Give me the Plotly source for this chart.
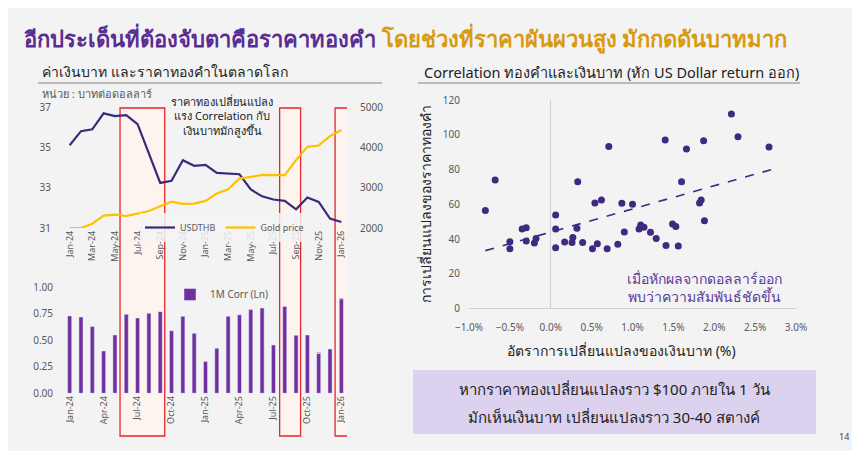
import plotly.graph_objects as go

# monthly data Jan-24 .. Jan-26
months = ["Jan-24", "Feb-24", "Mar-24", "Apr-24", "May-24", "Jun-24", "Jul-24", "Aug-24", "Sep-24",
          "Oct-24", "Nov-24", "Dec-24", "Jan-25", "Feb-25", "Mar-25", "Apr-25", "May-25", "Jun-25",
          "Jul-25", "Aug-25", "Sep-25", "Oct-25", "Nov-25", "Dec-25", "Jan-26"]
usdthb = [35.13, 35.83, 35.92, 36.72, 36.58, 36.63, 36.18, 34.72, 33.25, 33.35, 34.38, 34.10, 34.15,
          33.75, 33.72, 33.68, 32.92, 32.58, 32.42, 32.35, 31.93, 32.52, 32.30, 31.47, 31.30]
gold = [2000, 2000, 2108, 2308, 2333, 2300, 2358, 2425, 2542, 2658, 2600, 2608, 2675, 2858, 2967,
        3233, 3275, 3325, 3317, 3317, 3692, 4025, 4058, 4292, 4442]
corr_1m = [0.73, 0.72, 0.63, 0.40, 0.55, 0.745, 0.71, 0.755, 0.77, 0.59, 0.726, 0.566, 0.30,
           0.425, 0.726, 0.74, 0.79, 0.805, 0.456, 0.82, 0.547, 0.55, 0.375, 0.418, 0.889]
corr_labels = {22: "0.375", 24: "0.889"}

# periods with strong gold moves (month index start/end)
highlights = [(4.45, 8.4), (18.55, 20.4), (23.45, 24.6)]

# scatter: THB change (%) vs gold price change
thb_chg = [-0.80, -0.68, -0.50, -0.50, -0.35, -0.30, -0.30, -0.20, -0.18, 0.06, 0.06, 0.06, 0.17,
           0.26, 0.27, 0.32, 0.33, 0.39, 0.51, 0.54, 0.57, 0.62, 0.69, 0.71, 0.82, 0.87, 0.90, 1.00,
           1.08, 1.10, 1.14, 1.22, 1.29, 1.40, 1.41, 1.49, 1.53, 1.56, 1.60, 1.66, 1.82, 1.84, 1.87,
           1.88, 2.21, 2.29, 2.67]
gold_chg = [56.4, 74, 38.5, 34.5, 45.8, 46.6, 38.9, 37.8, 40.4, 53.9, 45.8, 35.1, 38.3,
            38, 41, 46.2, 73, 38, 34.5, 60.8, 37.4, 62.5, 34.5, 93.2, 37, 60.6, 44.1, 60,
            45.8, 48.1, 46.8, 43.9, 40.4, 97, 36.4, 48.7, 47.2, 36, 73, 91.8, 60.8, 62.5, 96.6,
            50.6, 112, 98.9, 93]
trend_x = [-0.8, 2.7]
trend_y = [33.4, 80.0]

W, H = 860, 451
OFF = 8  # page body margin, the figure div starts 8px in
PURPLE = "#3b2a7a"
GOLD = "#ffc000"
BAR = "#7030a0"
GREY = "#595959"
FONT = "Noto Sans, sans-serif"


def px(x):
    return (x - OFF) / W


def py(y):
    return 1 - (y - OFF) / H


idx = list(range(len(months)))

fig = go.Figure()
fig.add_trace(go.Scatter(x=idx, y=usdthb, mode="lines", name="USDTHB",
                         line=dict(color=PURPLE, width=2.2), xaxis="x", yaxis="y", legend="legend"))
fig.add_trace(go.Scatter(x=idx, y=gold, mode="lines", name="Gold price",
                         line=dict(color=GOLD, width=2.2), xaxis="x", yaxis="y2", legend="legend"))
fig.add_trace(go.Bar(x=idx, y=corr_1m, name="1M Corr (Ln)", marker_color=BAR, width=0.36,
                     text=[corr_labels.get(i, "") for i in idx], textposition="outside",
                     textfont=dict(size=10, color=GREY), cliponaxis=False,
                     xaxis="x2", yaxis="y3", legend="legend2"))
fig.add_trace(go.Scatter(x=thb_chg, y=gold_chg, mode="markers", showlegend=False,
                         marker=dict(color="#3f2a80", size=7), xaxis="x3", yaxis="y4"))
fig.add_trace(go.Scatter(x=trend_x, y=trend_y, mode="lines", showlegend=False,
                         line=dict(color="#3f2a80", width=1.6, dash="dash"), xaxis="x3", yaxis="y4"))

tick_font = dict(family=FONT, size=10, color=GREY)
xdom = [px(64), px(347)]

fig.update_layout(
    width=W, height=H, margin=dict(l=0, r=0, t=0, b=0, autoexpand=False),
    paper_bgcolor="#f3f3f4", plot_bgcolor="rgba(0,0,0,0)",
    font=dict(family=FONT, color="#333333"),
    xaxis=dict(domain=xdom, range=[-0.5, 24.5], tickvals=idx[::2], ticktext=months[::2],
               tickangle=-90, tickfont=dict(family=FONT, size=9, color=GREY), showgrid=False,
               zeroline=False, anchor="y", automargin=False),
    yaxis=dict(domain=[py(228), py(107.7)], range=[31, 37], tick0=31, dtick=2, tickfont=tick_font,
               showgrid=False, zeroline=False, anchor="x", ticklabelstandoff=12, automargin=False),
    yaxis2=dict(overlaying="y", side="right", range=[2000, 5000], dtick=1000, tickfont=tick_font,
                showgrid=False, zeroline=False, anchor="x", ticklabelstandoff=12, automargin=False),
    xaxis2=dict(domain=xdom, range=[-0.5, 24.5], tickvals=idx[::3], ticktext=months[::3],
                tickangle=-90, tickfont=dict(family=FONT, size=9, color=GREY), showgrid=False,
                zeroline=False, anchor="y3", automargin=False),
    yaxis3=dict(domain=[py(393.3), py(287.3)], range=[0, 1], dtick=0.25, tickformat=".2f",
                tickfont=tick_font, showgrid=False, zeroline=False, anchor="x2",
                ticklabelstandoff=10, automargin=False),
    xaxis3=dict(domain=[px(469), px(796)], range=[-1, 3], dtick=0.5, tickformat=".1f",
                ticksuffix="%", tickfont=tick_font, showgrid=False, zeroline=True,
                zerolinecolor="#d0d0d0", zerolinewidth=1, anchor="y4", ticklabelstandoff=11,
                automargin=False),
    yaxis4=dict(domain=[py(308.7), py(100)], range=[0, 120], dtick=20, tickfont=tick_font,
                showgrid=False, zeroline=True, zerolinecolor="#d0d0d0", zerolinewidth=1,
                anchor="x3", ticklabelstandoff=8, automargin=False),
    legend=dict(orientation="h", x=px(140), y=py(213), xanchor="left", yanchor="top",
                bgcolor="rgba(243,243,244,0.85)", font=dict(family=FONT, size=9, color=GREY),
                itemwidth=30, tracegroupgap=0),
    legend2=dict(orientation="h", x=px(170), y=py(280), xanchor="left", yanchor="top",
                 bgcolor="rgba(0,0,0,0)", font=dict(family=FONT, size=10, color=GREY)),
)

# highlight boxes spanning both left charts
for x0, x1 in highlights:
    fig.add_shape(type="rect", xref="x", yref="paper", x0=x0, x1=x1, y0=py(436), y1=py(108),
                  line=dict(color="#e8262a", width=1.3), fillcolor="#fdf4ef", layer="below")

# header rules
fig.add_shape(type="line", xref="paper", yref="paper", x0=px(38), x1=px(382), y0=py(83), y1=py(83),
              line=dict(color="#7f7f7f", width=1))
fig.add_shape(type="line", xref="paper", yref="paper", x0=px(418), x1=px(800), y0=py(83), y1=py(83),
              line=dict(color="#7f7f7f", width=1))

# message box
fig.add_shape(type="rect", xref="paper", yref="paper", x0=px(413), x1=px(816), y0=py(434), y1=py(370),
              line=dict(width=0), fillcolor="#dcd2ef", layer="below")


def note(x, y, text, size, color="#222222", anchor="left", angle=0):
    fig.add_annotation(xref="paper", yref="paper", x=px(x), y=py(y), xanchor=anchor,
                       yanchor="middle", showarrow=False, text=text, textangle=angle,
                       font=dict(family=FONT, size=size, color=color))


note(22, 38, "<b><span style='color:#5b2d90'>อีกประเด็นที่ต้องจับตาคือราคาทองคำ</span> "
             "<span style='color:#d89a0e'>โดยช่วงที่ราคาผันผวนสูง มักกดดันบาทมาก</span></b>", 22)
note(40, 72, "ค่าเงินบาท และราคาทองคำในตลาดโลก", 14)
note(40, 93, "หน่วย : บาทต่อดอลลาร์", 11, GREY)
note(222, 116, "ราคาทองเปลี่ยนแปลง<br>แรง Correlation กับ<br>เงินบาทมักสูงขึ้น", 11, anchor="center")
note(422, 72, "Correlation ทองคำและเงินบาท (หัก US Dollar return ออก)", 14.5)
# scatter axis titles
note(621, 350, "อัตราการเปลี่ยนแปลงของเงินบาท (%)", 14, anchor="center")
note(425, 204, "การเปลี่ยนแปลงของราคาทองคำ", 14, anchor="center", angle=-90)
note(704, 287, "เมื่อหักผลจากดอลลาร์ออก<br>พบว่าความสัมพันธ์ชัดขึ้น", 14, "#5b3a99", anchor="center")
# message box text
note(614, 389, "หากราคาทองเปลี่ยนแปลงราว $100 ภายใน 1 วัน", 15, anchor="center")
note(614, 417, "มักเห็นเงินบาท เปลี่ยนแปลงราว 30-40 สตางค์", 15, anchor="center")
note(844, 436, "14", 9, "#444444", anchor="center")

fig.write_html("out.html")
